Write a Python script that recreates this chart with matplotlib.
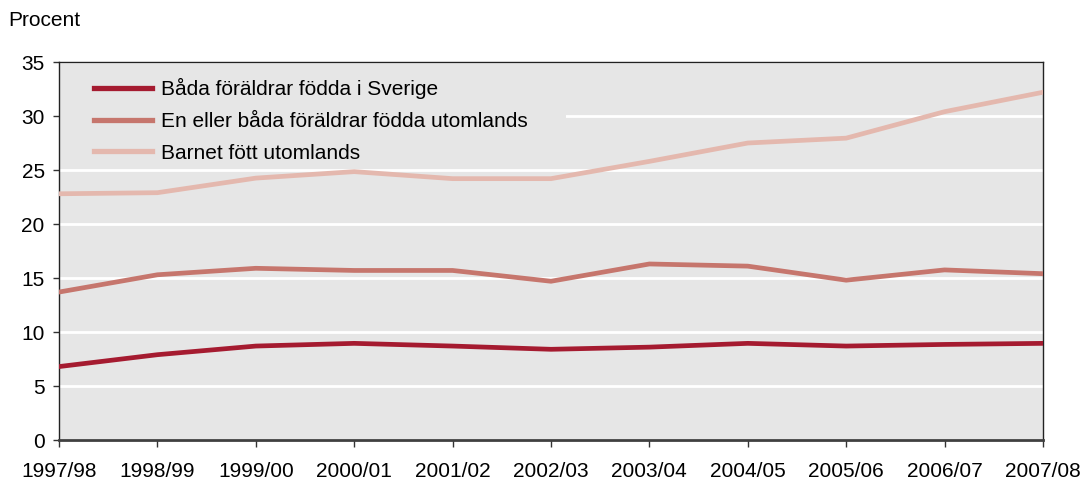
import matplotlib
matplotlib.use("Agg")
import matplotlib.pyplot as plt
from matplotlib.patches import Rectangle

plt.rcParams['font.family'] = ['Liberation Sans', 'DejaVu Sans']

seasons = ["1997/98", "1998/99", "1999/00", "2000/01", "2001/02", "2002/03",
           "2003/04", "2004/05", "2005/06", "2006/07", "2007/08"]
swedish_parents = [6.8, 7.9, 8.7, 8.95, 8.7, 8.4, 8.6, 8.95, 8.7, 8.85, 8.95]
foreign_parent = [13.7, 15.3, 15.9, 15.7, 15.7, 14.7, 16.3, 16.1, 14.8, 15.75, 15.4]
born_abroad = [22.8, 22.9, 24.25, 24.85, 24.2, 24.2, 25.8, 27.5, 27.95, 30.4, 32.2]

series_labels = ["Båda föräldrar födda i Sverige",
                 "En eller båda föräldrar födda utomlands",
                 "Barnet fött utomlands"]
series_colors = ["#a51b30", "#c6766d", "#e4b8ae"]
y_ticks = [0, 5, 10, 15, 20, 25, 30, 35]

bg = "#e6e6e6"
fs = 15
fig = plt.figure(figsize=(10.83, 4.8), dpi=100)
ax = fig.add_axes([0.0545, 0.0833, 0.9085, 0.7875])
ax.set_facecolor(bg)

x = list(range(len(seasons)))
for vals, lab, col in zip([swedish_parents, foreign_parent, born_abroad],
                          series_labels, series_colors):
    ax.plot(x, vals, color=col, lw=3.4, label=lab, zorder=3,
            solid_joinstyle='miter')

ax.set_xlim(0, len(seasons) - 1)
ax.set_ylim(0, 35)
ax.set_yticks(y_ticks)
ax.set_xticks(x)
ax.set_xticklabels(seasons)
ax.yaxis.grid(True, color="white", lw=2.0, zorder=1)
ax.set_axisbelow(True)

ax.tick_params(axis='x', direction='out', length=5, width=1, color='#333333',
               pad=10.5, labelsize=fs)
ax.tick_params(axis='y', direction='out', length=4.3, width=1, color='#333333',
               pad=6, labelsize=fs)

for side in ['left', 'top', 'right']:
    ax.spines[side].set_color('#222222')
    ax.spines[side].set_linewidth(1.0)
ax.spines['bottom'].set_color('#404040')
ax.spines['bottom'].set_linewidth(2.0)

# Panel behind the legend hides the gridlines there
ax.add_patch(Rectangle((0, 0.724), 0.515, 0.27, transform=ax.transAxes,
                       facecolor=bg, edgecolor='none', zorder=2))

leg = ax.legend(loc='upper left', bbox_to_anchor=(0.0356, 0.958), frameon=False,
                fontsize=fs, handlelength=2.8, handletextpad=0.43,
                labelspacing=0.62, borderpad=0, borderaxespad=0)
for h in leg.get_lines():
    h.set_linewidth(3.8)

fig.text(0.008, 0.958, "Procent", fontsize=fs, va='center', ha='left')

fig.savefig("out.png", dpi=100)
